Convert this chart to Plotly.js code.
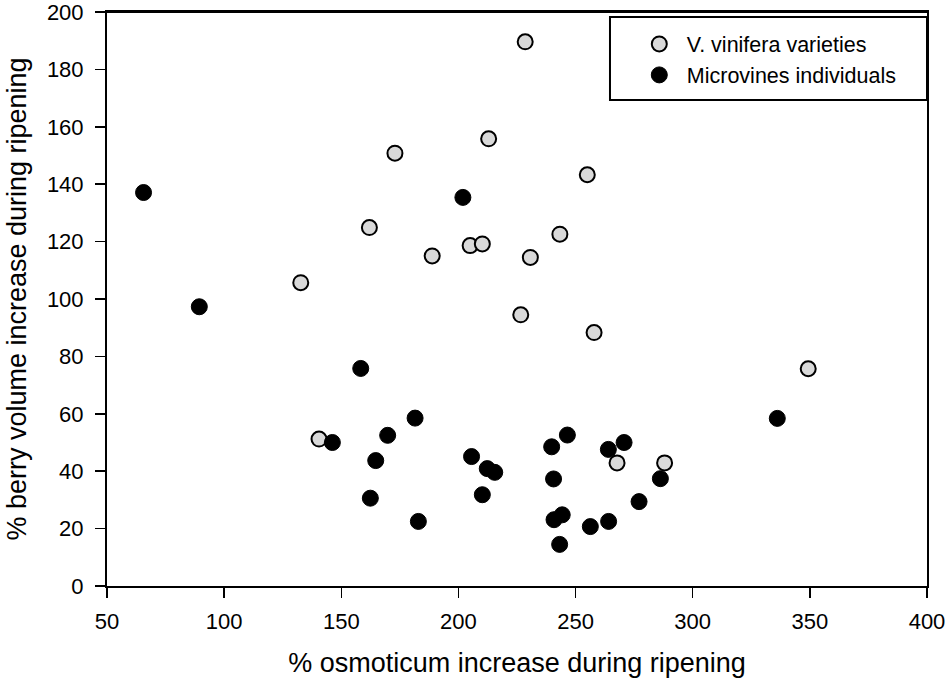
<!DOCTYPE html>
<html>
<head>
<meta charset="utf-8">
<script src="https://cdn.plot.ly/plotly-3.0.1.min.js"></script>
<style>
  body { margin: 0; background: #fff; }
  #chart { width: 950px; height: 686px; }
</style>
</head>
<body>
<div id="chart"></div>
<script>
// V. vinifera varieties (grey circles)
var vinifera_x = [228.5, 172.9, 212.9, 255, 162, 205, 210.2, 188.8, 243.3, 230.7, 132.7, 226.6, 257.9, 349.3, 140.5, 267.7, 288]
var vinifera_y = [189.6, 150.8, 155.8, 143.3, 124.9, 118.6, 119.2, 115, 122.6, 114.5, 105.7, 94.5, 88.3, 75.7, 51.2, 42.9, 42.9]

// Microvines individuals (black circles)
var micro_x = [65.6, 89.4, 201.9, 158.3, 181.5, 169.8, 146.2, 164.7, 162.4, 182.9, 205.6, 210.2, 212.3, 215.5,
               239.8, 246.5, 240.6, 240.8, 244.3, 243.2, 256.3, 264.1, 264, 270.7, 286.2, 277.1, 336.1]
var micro_y = [137.1, 97.3, 135.4, 75.8, 58.5, 52.5, 50, 43.7, 30.6, 22.5, 45.1, 31.8, 40.9, 39.6,
               48.5, 52.6, 37.3, 23.1, 24.8, 14.5, 20.7, 22.5, 47.6, 50, 37.4, 29.4, 58.4]

var x_ticks = [50, 100, 150, 200, 250, 300, 350, 400]
var y_ticks = [0, 20, 40, 60, 80, 100, 120, 140, 160, 180, 200]

var font_family = 'Liberation Sans, Arial, sans-serif'

var trace1 = {
    x: vinifera_x,
    y: vinifera_y,
    name: 'V. vinifera varieties',
    type: 'scatter',
    mode: 'markers',
    marker: {
        size: 15,
        color: '#d9d9d9',
        line: {color: '#000', width: 2}
    },
    cliponaxis: false
}

var trace2 = {
    x: micro_x,
    y: micro_y,
    name: 'Microvines individuals',
    type: 'scatter',
    mode: 'markers',
    marker: {
        size: 16,
        color: '#000',
        line: {color: '#000', width: 1}
    },
    cliponaxis: false
}

var layout = {
    width: 950,
    height: 686,
    margin: {l: 107, r: 23, t: 12, b: 100, pad: 0},
    paper_bgcolor: '#fff',
    plot_bgcolor: '#fff',
    font: {family: font_family, color: '#000', size: 21},
    showlegend: true,
    legend: {
        x: 0.64,
        xanchor: 'left',
        y: 0.98,
        yanchor: 'top',
        borderwidth: 0,
        bgcolor: 'rgba(0,0,0,0)',
        font: {size: 21.5, family: font_family},
        itemwidth: 45,
        tracegroupgap: 0
    },
    // legend frame, as in the original figure
    shapes: [{
        type: 'rect',
        xref: 'paper', yref: 'paper',
        x0: 0.6134, x1: 1, y0: 0.8467, y1: 0.9913,
        line: {color: '#000', width: 2}
    }, {
        type: 'line',
        xref: 'paper', yref: 'paper',
        x0: 0, x1: 1, y0: 1, y1: 1,
        line: {color: '#000', width: 2}
    }],
    xaxis: {
        range: [50, 400],
        tickvals: x_ticks,
        ticks: 'outside',
        ticklen: 10,
        tickwidth: 1.5,
        tickcolor: '#000',
        ticklabelstandoff: 5,
        ticklabeloverflow: 'allow',
        showgrid: false,
        zeroline: false,
        showline: true,
        linecolor: '#000',
        linewidth: 2,
        mirror: true,
        tickfont: {size: 22},
        title: {text: '% osmoticum increase during ripening', font: {size: 27}, standoff: 20}
    },
    yaxis: {
        range: [0, 200],
        tickvals: y_ticks,
        ticks: 'outside',
        ticklen: 10,
        tickwidth: 1.5,
        tickcolor: '#000',
        ticklabelstandoff: 7,
        ticklabeloverflow: 'allow',
        showgrid: false,
        zeroline: false,
        showline: true,
        linecolor: '#000',
        linewidth: 2,
        mirror: true,
        tickfont: {size: 22},
        title: {text: '% berry volume increase during ripening', font: {size: 27}, standoff: 12}
    }
}

Plotly.newPlot('chart', [trace1, trace2], layout, {displayModeBar: false, staticPlot: true})
</script>
</body>
</html>
